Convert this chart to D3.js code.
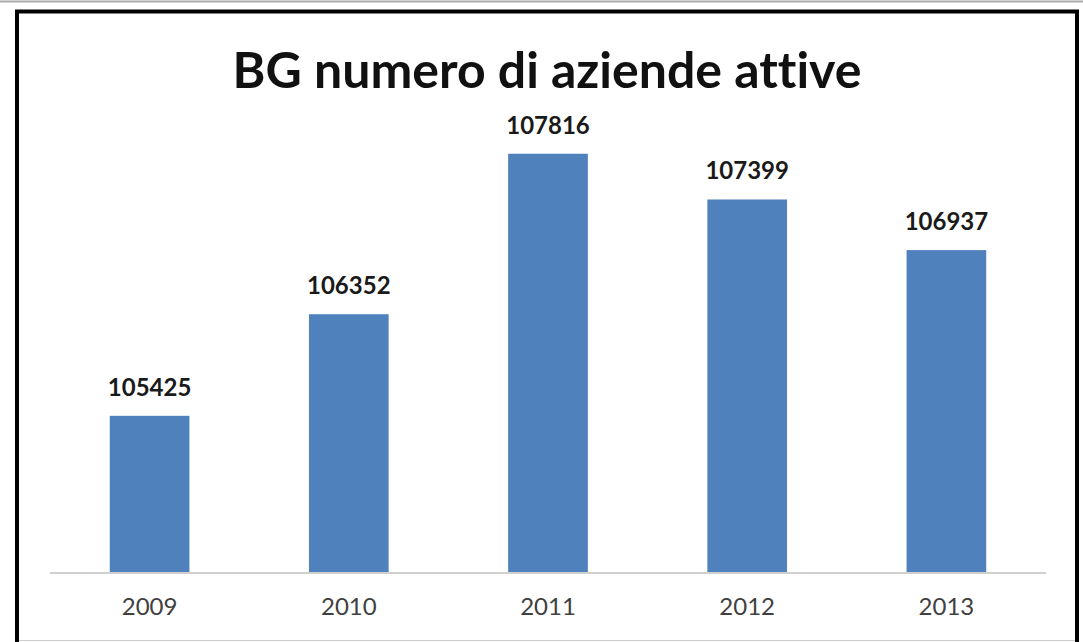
<!DOCTYPE html>
<html>
<head>
<meta charset="utf-8">
<script src="https://cdn.jsdelivr.net/npm/d3@7"></script>
<style>
  body { margin: 0; background: #fff; }
  svg { display: block; font-family: Lato, "Open Sans", sans-serif; font-variant-ligatures: none; }
</style>
</head>
<body>
<svg width="1083" height="642"></svg>
<script>
// chart data
var years = ["2009", "2010", "2011", "2012", "2013"];
var aziende = [105425, 106352, 107816, 107399, 106937];
var titolo = "BG numero di aziende attive";

var svg = d3.select("svg");

// outer frame
svg.append("line").attr("x1", 0).attr("x2", 1083).attr("y1", 1.5).attr("y2", 1.5)
    .attr("stroke", "#aaa").attr("stroke-width", 2);
svg.append("path")
    .attr("d", "M17,642 L17,11.5 L1077,11.5 L1077,642")
    .attr("fill", "none").attr("stroke", "#000").attr("stroke-width", 4);
svg.append("line").attr("x1", 19).attr("x2", 1075).attr("y1", 640.5).attr("y2", 640.5)
    .attr("stroke", "#ccc").attr("stroke-width", 1);

var scaleX = d3.scaleBand().domain(years).range([50, 1046]).paddingInner(0.6).paddingOuter(0.3);
var scaleY = d3.scaleLinear().domain([104000, 108000]).range([572, 133.6]);

var g = svg.append("g");

g.selectAll(".bar")
    .data(aziende)
    .enter()
    .append("rect")
    .attr("class", "bar")
    .attr("x", function(d, i){ return scaleX(years[i]); })
    .attr("width", scaleX.bandwidth())
    .attr("y", function(d){ return scaleY(d); })
    .attr("height", function(d){ return scaleY.range()[0] - scaleY(d); })
    .attr("fill", "#4f81bd");

g.selectAll(".val")
    .data(aziende)
    .enter()
    .append("text")
    .attr("class", "val")
    .attr("x", function(d, i){ return scaleX(years[i]) + scaleX.bandwidth() / 2; })
    .attr("y", function(d){ return scaleY(d) - 20; })
    .attr("text-anchor", "middle")
    .attr("font-size", 24)
    .attr("font-weight", "bold")
    .attr("fill", "#1a1a1a")
    .text(function(d){ return d; });

// x axis
var axis = g.append("g")
    .attr("transform", "translate(0,573)")
    .call(d3.axisBottom(scaleX).tickSize(0).tickPadding(25));
axis.select(".domain").attr("stroke", "#d0d0d0").attr("stroke-width", 2)
    .attr("d", "M50,0H1046");
axis.selectAll("text").attr("font-size", 24).attr("fill", "#404040")
    .attr("font-family", "Lato, 'Open Sans', sans-serif");

svg.append("text")
    .attr("x", 547)
    .attr("y", 88)
    .attr("text-anchor", "middle")
    .attr("font-size", 50)
    .attr("font-weight", "bold")
    .attr("fill", "#111")
    .text(titolo);
</script>
</body>
</html>
